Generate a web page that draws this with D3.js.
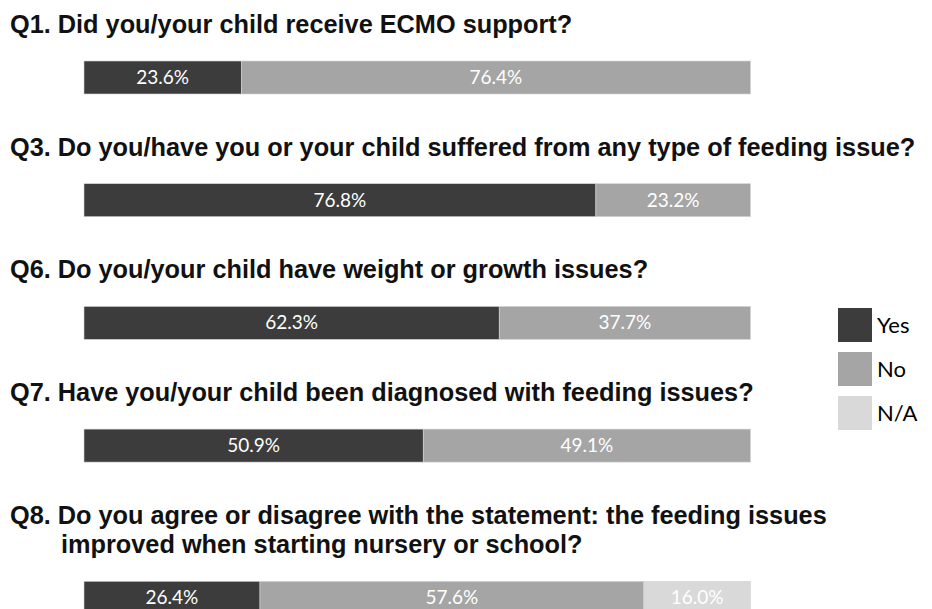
<!DOCTYPE html>
<html>
<head>
<meta charset="utf-8">
<script src="https://cdn.jsdelivr.net/npm/d3@7"></script>
<style>
  html, body { margin: 0; padding: 0; background: #fff; }
  svg { display: block; }
</style>
</head>
<body>
<svg id="chart" width="932" height="609"></svg>
<script>
// ---- Data ----
const questions = [
  ["Q1. Did you/your child receive ECMO support?"],
  ["Q3. Do you/have you or your child suffered from any type of feeding issue?"],
  ["Q6. Do you/your child have weight or growth issues?"],
  ["Q7. Have you/your child been diagnosed with feeding issues?"],
  ["Q8. Do you agree or disagree with the statement: the feeding issues", "improved when starting nursery or school?"]
];
const categories = ["Yes", "No", "N/A"];
const yesValues = [23.6, 76.8, 62.3, 50.9, 26.4];
const noValues  = [76.4, 23.2, 37.7, 49.1, 57.6];
const naValues  = [0, 0, 0, 0, 16.0];
const colors = ["#3c3c3c", "#a5a5a5", "#d9d9d9"];

// ---- Layout ----
const svg = d3.select("#chart");
const x = d3.scaleLinear().domain([0, 100]).range([84, 750.5]);
const barH = 33, titleToBar = 28, barToTitle = 61.7, lineH = 29.5, firstBaseline = 33;
const titleFont = "'Liberation Sans', Arial, sans-serif";
const labelFont = "Lato, 'Noto Sans', sans-serif";

const rows = questions.map((lines, i) => ({
  lines,
  values: [yesValues[i], noValues[i], naValues[i]]
}));

let base = firstBaseline;
rows.forEach(r => {
  r.baselines = r.lines.map((_, k) => base + k * lineH);
  r.barTop = r.baselines[r.baselines.length - 1] + titleToBar;
  base = r.barTop + barH + barToTitle;
  let cum = 0;
  r.segs = r.values.map((v, k) => {
    const s = { v, k, x0: cum, x1: cum + v };
    cum += v;
    return s;
  });
});

const color = d3.scaleOrdinal().domain(categories).range(colors);

const g = svg.selectAll("g.row").data(rows).join("g").attr("class", "row");

g.each(function(r) {
  const sel = d3.select(this);
  sel.selectAll("text.title").data(r.lines.map((t, k) => ({ t, k, y: r.baselines[k] })))
    .join("text")
    .attr("class", "title")
    .attr("x", d => d.k === 0 ? 10 : 61)
    .attr("y", d => d.y)
    .attr("font-family", titleFont)
    .attr("font-weight", "bold")
    .attr("font-size", 25.3)
    .attr("fill", "#111")
    .text(d => d.t);

  const segs = r.segs.filter(s => s.v > 0);
  sel.selectAll("rect.seg").data(segs).join("rect")
    .attr("class", "seg")
    .attr("x", s => x(s.x0))
    .attr("y", r.barTop)
    .attr("width", s => x(s.x1) - x(s.x0))
    .attr("height", barH)
    .attr("fill", s => color(categories[s.k]))
    .attr("stroke", "#d4d4d4")
    .attr("stroke-width", 0.6);

  sel.selectAll("text.lab").data(segs).join("text")
    .attr("class", "lab")
    .attr("x", s => x((s.x0 + s.x1) / 2))
    .attr("y", r.barTop + barH / 2 + 6.5)
    .attr("text-anchor", "middle")
    .attr("font-family", labelFont)
    .attr("font-size", 19)
    .attr("fill", "#fff")
    .text(s => s.v.toFixed(1) + "%");
});

// legend
const legend = svg.append("g").attr("transform", "translate(838,308)");
const li = legend.selectAll("g").data(categories).join("g")
  .attr("transform", (d, i) => `translate(0,${i * 44})`);
li.append("rect").attr("width", 34).attr("height", 34)
  .attr("fill", d => color(d));
li.append("text").attr("x", 39).attr("y", 17 + 7.5)
  .attr("font-family", labelFont).attr("font-size", 22).attr("fill", "#000")
  .text(d => d);
</script>
</body>
</html>
